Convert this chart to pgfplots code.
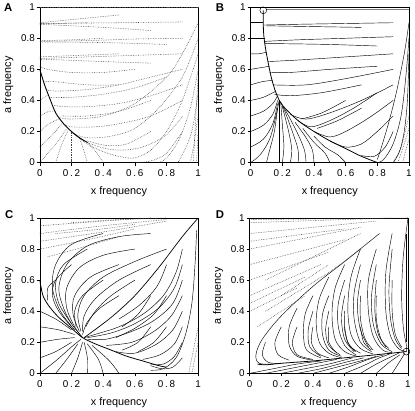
\documentclass[border=0pt]{standalone}
\usepackage{fontspec}
\setmainfont{Liberation Sans}
\usepackage{pgfplots}
\pgfplotsset{compat=1.18}
\pgfplotsset{
  panel/.style={scale only axis, width=160bp, height=157bp, anchor=south west,
    xmin=0,xmax=1,ymin=0,ymax=1,
    xtick={0,0.2,0.4,0.6,0.8,1}, ytick={0,0.2,0.4,0.6,0.8,1},
    /pgf/number format/assume math mode=true,
    yticklabel style={font=\fontsize{10}{11}\selectfont, xshift=1.5bp},
    xticklabel style={font=\fontsize{10}{11}\selectfont\addfontfeatures{LetterSpace=18}, yshift=-1bp},
    tick align=outside, tick pos=left, major tick length=3bp,
    tick style={black, line width=0.5pt},
    xlabel={x frequency}, ylabel={a frequency},
    label style={font=\fontsize{11}{12}\selectfont},
    xlabel style={yshift=-3bp}, ylabel style={yshift=1bp},
    axis line style={black, line width=0.5pt},
    clip=false},
  traj/.style={black, line width=0.45pt, smooth, tension=0.55, mark=none},
  dtraj/.style={black!75, dash pattern=on 0.6pt off 1.1pt, line width=0.55pt, smooth, tension=0.55, mark=none}
}
\begin{document}
\begin{tikzpicture}
\path (0,0) rectangle (415bp,411bp);
% ---------------- Panel A ----------------
\begin{axis}[panel, at={(39bp,247bp)}]
\addplot[dtraj] coordinates {(0,1)(0.5,1)(1,1)};
\addplot[dtraj] coordinates {(0.9,0.905)(0.5,0.9)(0,0.895)};
\addplot[dtraj] coordinates {(0.7,0.85)(0.4,0.87)(0.1,0.885)(0,0.89)};
\addplot[dtraj] coordinates {(0.5,0.95)(0.2,0.92)(0,0.9)};
\addplot[dtraj] coordinates {(0.3,0.9)(0.1,0.895)(0,0.893)};
\addplot[dtraj] coordinates {(0.9,0.8)(0.6,0.795)(0.3,0.785)(0,0.78)};
\addplot[dtraj] coordinates {(0.8,0.76)(0.5,0.77)(0.2,0.775)(0,0.775)};
\addplot[dtraj] coordinates {(0.4,0.8)(0.2,0.79)(0,0.785)};
\addplot[dtraj] coordinates {(0.9,0.7)(0.6,0.69)(0.3,0.68)(0,0.67)};
\addplot[dtraj] coordinates {(0.7,0.64)(0.4,0.65)(0.15,0.66)(0,0.665)};
\addplot[dtraj] coordinates {(0.5,0.7)(0.25,0.69)(0,0.68)};
\addplot[dtraj] coordinates {(0.9,0.6)(0.7,0.55)(0.5,0.5)(0.3,0.47)(0.1,0.46)(0.04,0.47)};
\addplot[dtraj] coordinates {(0.6,0.6)(0.4,0.58)(0.2,0.58)(0.05,0.6)(0,0.62)};
\addplot[dtraj] coordinates {(0.8,0.55)(0.6,0.48)(0.4,0.44)(0.2,0.42)(0.06,0.42)};
\addplot[dtraj] coordinates {(0.9,0.5)(0.7,0.43)(0.5,0.38)(0.3,0.36)(0.15,0.36)(0.08,0.37)};
\addplot[dtraj] coordinates {(0.5,0.5)(0.3,0.5)(0.1,0.52)(0.03,0.52)};
\addplot[dtraj] coordinates {(1,0.9)(0.9,0.7)(0.8,0.55)(0.6,0.38)(0.4,0.3)(0.2,0.28)(0.12,0.29)};
\addplot[dtraj] coordinates {(0.9,0.4)(0.7,0.3)(0.5,0.25)(0.35,0.23)(0.2,0.23)(0.15,0.25)};
\addplot[dtraj] coordinates {(0.7,0.4)(0.5,0.33)(0.3,0.3)(0.14,0.3)};
\addplot[dtraj] coordinates {(1,0.8)(0.9,0.55)(0.75,0.35)(0.6,0.22)(0.45,0.17)(0.3,0.16)(0.2,0.19)};
\addplot[dtraj] coordinates {(0.9,0.3)(0.8,0.18)(0.65,0.1)(0.5,0.08)(0.38,0.1)(0.28,0.14)(0.2,0.2)};
\addplot[dtraj] coordinates {(0.7,0.2)(0.55,0.12)(0.42,0.11)(0.3,0.14)};
\addplot[dtraj] coordinates {(1,0.7)(0.9,0.4)(0.8,0.2)(0.7,0.08)(0.6,0.03)(0.5,0.04)(0.4,0.07)(0.3,0.12)(0.22,0.18)};
\addplot[dtraj] coordinates {(0.9,0.2)(0.8,0.06)(0.7,0.01)(0.6,0.0)};
\addplot[dtraj] coordinates {(1,0.6)(0.95,0.35)(0.88,0.15)(0.8,0.03)(0.75,0)};
\addplot[dtraj] coordinates {(1,0.45)(0.96,0.2)(0.9,0.05)(0.87,0)};
\addplot[dtraj] coordinates {(1,0.3)(0.97,0.1)(0.95,0)};
\addplot[dtraj] coordinates {(0.97,0)(0.985,0.3)(1,0.55)};
\addplot[dtraj] coordinates {(0.99,0)(1,0.2)};
\addplot[dtraj] coordinates {(0,0.4)(0.04,0.43)(0.06,0.43)};
\addplot[dtraj] coordinates {(0,0.3)(0.06,0.33)(0.1,0.33)};
\addplot[dtraj] coordinates {(0,0.2)(0.06,0.25)(0.12,0.28)};
\addplot[dtraj] coordinates {(0,0.1)(0.08,0.18)(0.14,0.25)};
\addplot[dtraj] coordinates {(0,0)(0.1,0.12)(0.17,0.22)};
\addplot[dtraj] coordinates {(0.1,0)(0.14,0.12)(0.18,0.21)};
\addplot[dtraj] coordinates {(0.2,0)(0.2,0.1)(0.2,0.2)};
\addplot[dtraj] coordinates {(0.3,0)(0.28,0.07)(0.25,0.16)};
\addplot[dtraj] coordinates {(0.4,0)(0.36,0.06)(0.3,0.13)};
\addplot[black, line width=0.9pt, smooth, mark=none] coordinates {(0.3,0.13)(0.25,0.16)(0.2,0.2)(0.15,0.25)(0.1,0.32)(0.06,0.42)(0.03,0.5)(0,0.6)};
\end{axis}
% ---------------- Panel B ----------------
\begin{axis}[panel, at={(252bp,247bp)}]
\addplot[black!50, line width=0.5pt, mark=none] coordinates {(0.1,0.985)(1,0.985)};
\addplot[dtraj] coordinates {(0.9,0)(0.95,0.1)(1,0.3)};
\addplot[dtraj] coordinates {(0.93,0)(0.97,0.12)(1,0.22)};
\addplot[dtraj] coordinates {(0.96,0)(0.98,0.08)(1,0.15)};
\addplot[black, line width=0.8pt, smooth, mark=none] coordinates {(0.8,0)(0.7,0.04)(0.6,0.09)(0.5,0.14)(0.4,0.2)(0.3,0.27)(0.2,0.37)(0.16,0.45)(0.13,0.55)(0.1,0.7)(0.085,0.8)(0.08,0.88)(0.08,0.98)};
\addplot[traj] coordinates {(0,0.9)(0.08,0.9)};
\addplot[traj] coordinates {(0,0.8)(0.085,0.8)};
\addplot[traj] coordinates {(0,0.7)(0.05,0.7)(0.1,0.71)};
\addplot[traj] coordinates {(0,0.6)(0.06,0.61)(0.12,0.62)};
\addplot[traj] coordinates {(0,0.5)(0.07,0.52)(0.14,0.53)};
\addplot[traj] coordinates {(0,0.4)(0.08,0.42)(0.16,0.46)};
\addplot[traj] coordinates {(0,0.3)(0.08,0.33)(0.14,0.38)(0.17,0.43)};
\addplot[traj] coordinates {(0,0.2)(0.08,0.24)(0.14,0.31)(0.17,0.4)};
\addplot[traj] coordinates {(0,0.1)(0.08,0.15)(0.14,0.25)(0.17,0.38)};
\addplot[traj] coordinates {(0,0)(0.06,0.05)(0.12,0.15)(0.16,0.3)(0.18,0.4)};
\addplot[traj] coordinates {(0.1,0)(0.12,0.08)(0.15,0.2)(0.17,0.35)};
\addplot[traj] coordinates {(0.18,0)(0.18,0.15)(0.18,0.3)(0.18,0.4)};
\addplot[traj] coordinates {(0.2,0)(0.21,0.1)(0.2,0.25)(0.19,0.39)};
\addplot[traj] coordinates {(0.25,0)(0.26,0.08)(0.24,0.2)(0.2,0.36)};
\addplot[traj] coordinates {(0.3,0)(0.3,0.08)(0.27,0.18)(0.22,0.32)(0.19,0.39)};
\addplot[traj] coordinates {(0.35,0)(0.34,0.08)(0.3,0.18)(0.24,0.3)(0.2,0.37)};
\addplot[traj] coordinates {(0.4,0)(0.39,0.08)(0.35,0.16)(0.28,0.26)};
\addplot[traj] coordinates {(0.5,0)(0.47,0.06)(0.4,0.13)(0.33,0.22)};
\addplot[traj] coordinates {(0.6,0)(0.55,0.05)(0.47,0.1)(0.4,0.17)};
\addplot[traj] coordinates {(0.9,0.9)(0.6,0.895)(0.3,0.89)(0.08,0.885)};
\addplot[traj] coordinates {(0.7,0.87)(0.4,0.875)(0.1,0.88)};
\addplot[traj] coordinates {(0.9,0.81)(0.6,0.8)(0.3,0.79)(0.09,0.78)};
\addplot[traj] coordinates {(0.8,0.75)(0.5,0.76)(0.2,0.765)(0.09,0.765)};
\addplot[traj] coordinates {(0.9,0.7)(0.6,0.68)(0.3,0.66)(0.11,0.65)};
\addplot[traj] coordinates {(0.8,0.62)(0.5,0.6)(0.25,0.58)(0.12,0.58)};
\addplot[traj] coordinates {(0.9,0.6)(0.6,0.54)(0.35,0.5)(0.14,0.5)};
\addplot[traj] coordinates {(0.7,0.5)(0.45,0.45)(0.25,0.43)(0.15,0.44)};
\addplot[traj] coordinates {(0.9,0.5)(0.7,0.4)(0.5,0.32)(0.35,0.28)(0.25,0.31)};
\addplot[traj] coordinates {(0.8,0.45)(0.65,0.35)(0.5,0.27)(0.38,0.23)(0.3,0.27)};
\addplot[traj] coordinates {(0.6,0.4)(0.45,0.32)(0.32,0.28)};
\addplot[traj] coordinates {(0.9,0.4)(0.75,0.29)(0.6,0.2)(0.5,0.165)(0.4,0.2)};
\addplot[traj] coordinates {(0.7,0.35)(0.55,0.27)(0.42,0.22)};
\addplot[traj] coordinates {(0.9,0.3)(0.8,0.2)(0.7,0.12)(0.6,0.1)(0.5,0.14)};
\addplot[traj] coordinates {(0.9,0.2)(0.85,0.1)(0.78,0.04)(0.7,0.045)};
\addplot[traj] coordinates {(1,0.9)(0.97,0.7)(0.92,0.45)(0.87,0.25)(0.82,0.08)(0.8,0.02)};
\addplot[traj] coordinates {(1,0.8)(0.98,0.55)(0.95,0.3)(0.9,0.12)(0.84,0.02)(0.8,0)};
\addplot[traj] coordinates {(1,0.7)(0.99,0.4)(0.97,0.2)(0.94,0.07)(0.9,0.0)};
\addplot[only marks, mark=o, mark size=3.5pt, black, line width=0.5pt] coordinates {(0.08,0.98)};
\end{axis}
% ---------------- Panel C ----------------
\begin{axis}[panel, at={(39bp,34bp)}]
\addplot[dtraj] coordinates {(0,0.95)(0.4,0.98)(0.7,1)};
\addplot[dtraj] coordinates {(0,0.9)(0.4,0.95)(0.8,0.99)};
\addplot[dtraj] coordinates {(0,0.85)(0.4,0.91)(0.8,0.98)};
\addplot[dtraj] coordinates {(0,0.8)(0.3,0.86)(0.6,0.93)};
\addplot[dtraj] coordinates {(0.05,0.75)(0.3,0.82)(0.5,0.88)};
\addplot[dtraj] coordinates {(0.1,0.9)(0.4,0.93)(0.6,0.96)};
\addplot[dtraj] coordinates {(0.2,0.97)(0.5,0.99)(0.8,1)};
\addplot[dtraj] coordinates {(0.94,0)(0.97,0.15)(1,0.3)};
\addplot[dtraj] coordinates {(0.96,0)(0.98,0.1)(1,0.2)};
\addplot[black, line width=0.8pt, smooth, mark=none] coordinates {(0,0.6)(0.02,0.5)(0.06,0.43)(0.12,0.36)(0.2,0.29)(0.27,0.23)(0.35,0.19)(0.45,0.15)(0.55,0.11)(0.65,0.08)(0.75,0.05)(0.8,0.04)};
\addplot[black, line width=0.7pt, smooth, mark=none] coordinates {(0.28,0.23)(0.45,0.36)(0.6,0.5)(0.75,0.68)(0.9,0.88)(1,1)};
\addplot[traj] coordinates {(0.7,0.9)(0.5,0.88)(0.3,0.82)(0.17,0.7)(0.12,0.55)(0.15,0.42)(0.2,0.32)(0.27,0.23)};
\addplot[traj] coordinates {(0.6,0.8)(0.4,0.76)(0.25,0.68)(0.17,0.55)(0.17,0.42)(0.22,0.3)(0.27,0.23)};
\addplot[traj] coordinates {(0.8,0.8)(0.6,0.72)(0.4,0.62)(0.28,0.5)(0.24,0.38)(0.26,0.27)};
\addplot[traj] coordinates {(0.5,0.7)(0.32,0.62)(0.22,0.5)(0.21,0.38)(0.25,0.27)};
\addplot[traj] coordinates {(0.7,0.7)(0.5,0.6)(0.35,0.48)(0.28,0.37)(0.27,0.27)};
\addplot[traj] coordinates {(0.4,0.9)(0.2,0.83)(0.1,0.7)(0.08,0.55)(0.13,0.4)(0.22,0.28)};
\addplot[traj] coordinates {(0.3,0.8)(0.15,0.7)(0.1,0.58)(0.12,0.45)(0.2,0.32)};
\addplot[traj] coordinates {(0.5,0.5)(0.38,0.42)(0.3,0.33)(0.27,0.25)};
\addplot[traj] coordinates {(0.6,0.6)(0.45,0.5)(0.35,0.4)(0.29,0.3)};
\addplot[traj] coordinates {(0.4,0.6)(0.27,0.5)(0.22,0.4)(0.23,0.3)};
\addplot[traj] coordinates {(0.2,0.7)(0.1,0.6)(0.08,0.5)(0.12,0.4)(0.2,0.3)};
\addplot[traj] coordinates {(0.1,0.6)(0.05,0.55)(0.05,0.47)};
\addplot[traj] coordinates {(0.9,0.8)(0.86,0.65)(0.78,0.5)(0.65,0.38)(0.5,0.3)(0.38,0.26)(0.28,0.23)};
\addplot[traj] coordinates {(0.9,0.7)(0.85,0.55)(0.75,0.42)(0.6,0.32)(0.45,0.26)(0.3,0.23)};
\addplot[traj] coordinates {(0.9,0.6)(0.84,0.45)(0.72,0.34)(0.58,0.27)(0.42,0.22)(0.3,0.22)};
\addplot[traj] coordinates {(0.9,0.5)(0.83,0.37)(0.72,0.27)(0.58,0.2)(0.42,0.18)};
\addplot[traj] coordinates {(0.9,0.4)(0.84,0.28)(0.74,0.19)(0.6,0.13)(0.48,0.14)};
\addplot[traj] coordinates {(0.9,0.3)(0.85,0.19)(0.76,0.12)(0.65,0.09)};
\addplot[traj] coordinates {(0.9,0.2)(0.85,0.11)(0.78,0.06)(0.7,0.06)};
\addplot[traj] coordinates {(0.9,0.1)(0.84,0.04)(0.77,0.03)(0.7,0.05)};
\addplot[traj] coordinates {(0.8,0.7)(0.74,0.56)(0.63,0.44)(0.5,0.35)};
\addplot[traj] coordinates {(0.8,0.5)(0.72,0.38)(0.6,0.29)(0.48,0.23)};
\addplot[traj] coordinates {(0.7,0.5)(0.62,0.38)(0.52,0.3)};
\addplot[traj] coordinates {(0.8,0.3)(0.72,0.2)(0.62,0.14)};
\addplot[traj] coordinates {(0.7,0.3)(0.62,0.2)(0.52,0.15)};
\addplot[traj] coordinates {(0.99,0.92)(0.98,0.7)(0.96,0.45)(0.92,0.25)(0.86,0.1)(0.78,0.03)(0.7,0.02)};
\addplot[traj] coordinates {(0,0.4)(0.1,0.35)(0.2,0.28)};
\addplot[traj] coordinates {(0,0.3)(0.12,0.28)(0.22,0.25)};
\addplot[traj] coordinates {(0,0.2)(0.12,0.22)(0.22,0.23)};
\addplot[traj] coordinates {(0,0.1)(0.1,0.14)(0.2,0.2)};
\addplot[traj] coordinates {(0,0)(0.1,0.08)(0.2,0.17)(0.26,0.22)};
\addplot[traj] coordinates {(0.1,0)(0.17,0.09)(0.24,0.19)};
\addplot[traj] coordinates {(0.2,0)(0.24,0.1)(0.27,0.2)};
\addplot[traj] coordinates {(0.3,0)(0.3,0.1)(0.28,0.2)};
\addplot[traj] coordinates {(0.4,0)(0.37,0.09)(0.3,0.19)};
\addplot[traj] coordinates {(0.5,0)(0.44,0.08)(0.33,0.18)};
\end{axis}
% ---------------- Panel D ----------------
\begin{axis}[panel, at={(251bp,34bp)}]
\addplot[dtraj] coordinates {(0,0.99)(0.5,0.995)(1,1)};
\addplot[dtraj] coordinates {(0,0.97)(0.9,1)};
\addplot[dtraj] coordinates {(0,0.9)(0.8,0.98)};
\addplot[dtraj] coordinates {(0,0.85)(0.6,0.93)};
\addplot[dtraj] coordinates {(0,0.8)(0.7,0.94)};
\addplot[dtraj] coordinates {(0,0.7)(0.6,0.86)};
\addplot[dtraj] coordinates {(0,0.6)(0.5,0.78)};
\addplot[dtraj] coordinates {(0,0.5)(0.45,0.7)};
\addplot[dtraj] coordinates {(0,0.45)(0.35,0.62)};
\addplot[dtraj] coordinates {(0,0.4)(0.3,0.55)};
\addplot[dtraj] coordinates {(0.1,0.4)(0.5,0.65)(0.7,0.8)};
\addplot[dtraj] coordinates {(0.1,0.6)(0.5,0.8)(0.7,0.9)};
\addplot[dtraj] coordinates {(0.2,0.5)(0.5,0.7)};
\addplot[dtraj] coordinates {(0.05,0.3)(0.2,0.4)(0.35,0.5)};
\addplot[black, line width=0.8pt, smooth, mark=none] coordinates {(0.05,0.06)(0.1,0.055)(0.2,0.065)(0.4,0.08)(0.6,0.1)(0.8,0.12)(0.99,0.14)};
\addplot[traj] coordinates {(0.82,0.9)(0.6,0.72)(0.4,0.56)(0.2,0.37)(0.08,0.22)(0.04,0.12)(0.06,0.065)(0.15,0.06)};
\addplot[traj] coordinates {(0.1,0.2)(0.08,0.12)(0.12,0.07)(0.2,0.065)};
\addplot[traj] coordinates {(0.2,0.3)(0.16,0.2)(0.18,0.12)(0.25,0.085)};
\addplot[traj] coordinates {(0.3,0.42)(0.25,0.3)(0.25,0.18)(0.3,0.11)(0.4,0.085)};
\addplot[traj] coordinates {(0.3,0.3)(0.27,0.2)(0.3,0.12)(0.4,0.09)};
\addplot[traj] coordinates {(0.4,0.5)(0.35,0.38)(0.34,0.25)(0.36,0.15)(0.45,0.1)};
\addplot[traj] coordinates {(0.4,0.4)(0.37,0.28)(0.38,0.17)(0.45,0.11)};
\addplot[traj] coordinates {(0.4,0.3)(0.39,0.2)(0.43,0.13)(0.5,0.1)};
\addplot[traj] coordinates {(0.5,0.62)(0.44,0.48)(0.42,0.33)(0.44,0.2)(0.5,0.13)(0.58,0.1)};
\addplot[traj] coordinates {(0.5,0.5)(0.46,0.38)(0.46,0.25)(0.5,0.15)(0.58,0.11)};
\addplot[traj] coordinates {(0.5,0.4)(0.48,0.28)(0.5,0.18)(0.57,0.12)};
\addplot[traj] coordinates {(0.5,0.3)(0.5,0.2)(0.55,0.13)};
\addplot[traj] coordinates {(0.6,0.7)(0.54,0.55)(0.52,0.38)(0.54,0.22)(0.6,0.14)(0.68,0.11)};
\addplot[traj] coordinates {(0.6,0.6)(0.56,0.45)(0.56,0.3)(0.6,0.18)(0.67,0.12)};
\addplot[traj] coordinates {(0.6,0.5)(0.58,0.36)(0.6,0.22)(0.66,0.14)};
\addplot[traj] coordinates {(0.6,0.4)(0.6,0.28)(0.63,0.18)(0.7,0.13)};
\addplot[traj] coordinates {(0.6,0.3)(0.62,0.2)(0.67,0.14)};
\addplot[traj] coordinates {(0.7,0.8)(0.64,0.62)(0.62,0.42)(0.64,0.25)(0.7,0.16)(0.78,0.125)};
\addplot[traj] coordinates {(0.7,0.7)(0.66,0.52)(0.66,0.35)(0.7,0.2)(0.77,0.14)};
\addplot[traj] coordinates {(0.7,0.6)(0.68,0.44)(0.7,0.28)(0.75,0.17)};
\addplot[traj] coordinates {(0.7,0.5)(0.7,0.35)(0.73,0.22)(0.78,0.15)};
\addplot[traj] coordinates {(0.7,0.3)(0.72,0.2)(0.77,0.15)};
\addplot[traj] coordinates {(0.8,0.8)(0.75,0.6)(0.75,0.4)(0.78,0.24)(0.84,0.15)(0.9,0.135)};
\addplot[traj] coordinates {(0.8,0.7)(0.77,0.5)(0.78,0.32)(0.83,0.19)(0.9,0.14)};
\addplot[traj] coordinates {(0.8,0.6)(0.79,0.42)(0.81,0.26)(0.86,0.17)};
\addplot[traj] coordinates {(0.8,0.5)(0.8,0.35)(0.83,0.22)(0.88,0.16)};
\addplot[traj] coordinates {(0.9,0.9)(0.86,0.65)(0.86,0.4)(0.89,0.24)(0.94,0.16)(0.99,0.14)};
\addplot[traj] coordinates {(0.9,0.8)(0.88,0.55)(0.89,0.35)(0.92,0.22)(0.96,0.16)};
\addplot[traj] coordinates {(0.9,0.6)(0.9,0.4)(0.92,0.25)(0.96,0.17)};
\addplot[traj] coordinates {(1,1)(0.97,0.75)(0.96,0.5)(0.97,0.3)(0.99,0.18)(0.99,0.14)};
\addplot[traj] coordinates {(0.99,0.9)(0.99,0.5)(0.99,0.2)};
\addplot[traj] coordinates {(0,0)(0.15,0.03)(0.3,0.06)(0.45,0.08)};
\addplot[traj] coordinates {(0.1,0)(0.25,0.03)(0.4,0.06)(0.55,0.09)};
\addplot[traj] coordinates {(0.2,0)(0.35,0.03)(0.5,0.06)(0.65,0.1)};
\addplot[traj] coordinates {(0.3,0)(0.45,0.03)(0.6,0.07)(0.72,0.1)};
\addplot[traj] coordinates {(0.4,0)(0.55,0.04)(0.7,0.08)(0.8,0.11)};
\addplot[traj] coordinates {(0.5,0)(0.62,0.04)(0.75,0.09)(0.85,0.12)};
\addplot[traj] coordinates {(0.6,0)(0.72,0.05)(0.82,0.1)(0.9,0.13)};
\addplot[traj] coordinates {(0.7,0)(0.8,0.06)(0.9,0.11)(0.95,0.135)};
\addplot[traj] coordinates {(0.8,0)(0.88,0.07)(0.95,0.12)};
\addplot[traj] coordinates {(0.9,0)(0.95,0.08)(0.98,0.13)};
\addplot[only marks, mark=o, mark size=3.5pt, black, line width=0.5pt] coordinates {(0.99,0.14)};
\end{axis}
\node[font=\bfseries\fontsize{11.5}{12}\selectfont] at (7bp,404bp) {A};
\node[font=\bfseries\fontsize{11.5}{12}\selectfont] at (221bp,404bp) {B};
\node[font=\bfseries\fontsize{11.5}{12}\selectfont] at (8bp,194bp) {C};
\node[font=\bfseries\fontsize{11.5}{12}\selectfont] at (221bp,194bp) {D};
\end{tikzpicture}
\end{document}
